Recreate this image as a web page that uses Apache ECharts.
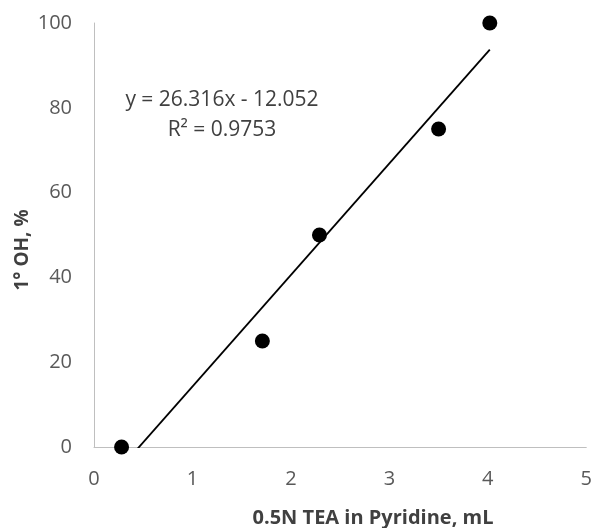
<!DOCTYPE html>
<html><head><meta charset="utf-8">
<script src="https://cdn.jsdelivr.net/npm/echarts@6/dist/echarts.min.js"></script>
<style>html,body{margin:0;padding:0;background:#fff}#c{width:595px;height:528px}</style>
</head><body><div id="c"></div>
<script>
var xValues = [0.28, 1.71, 2.29, 3.5, 4.02];
var yValues = [0, 25, 50, 75, 100];
var slope = 26.316, intercept = -12.052;
var eqText = "y = 26.316x - 12.052";
var r2Text = "R² = 0.9753";
var xTitle = "0.5N TEA in Pyridine, mL";
var yTitle = "1° OH, %";

var pts = xValues.map(function(x, i){ return [x, yValues[i]]; });
var xmin = Math.min.apply(null, xValues), xmax = Math.max.apply(null, xValues);
var trend = [[xmin, slope*xmin+intercept], [xmax, slope*xmax+intercept]];
var FONT = "Open Sans";
var chart = echarts.init(document.getElementById('c'));
chart.setOption({
  animation: false,
  grid: {left: 94, right: 6, top: 23, bottom: 81},
  xAxis: {type: 'value', min: 0, max: 5, interval: 1,
    axisLine: {show: true, onZero: false, lineStyle: {color: '#bfbfbf', width: 1}},
    axisTick: {show: false}, splitLine: {show: false},
    axisLabel: {color: '#595959', fontSize: 20, fontFamily: FONT, margin: 22}},
  yAxis: {type: 'value', min: 0, max: 100, interval: 20,
    axisLine: {show: true, lineStyle: {color: '#bfbfbf', width: 1}},
    axisTick: {show: false}, splitLine: {show: false},
    axisLabel: {color: '#595959', fontSize: 20, fontFamily: FONT, margin: 22}},
  series: [
    {type: 'line', data: trend, clip: true, symbol: 'none', silent: true,
     lineStyle: {color: '#000', width: 1.8}, z: 2},
    {type: 'scatter', data: pts, symbolSize: 15, itemStyle: {color: '#000', opacity: 1}, z: 3}
  ],
  graphic: [
    {type: 'text', style: {text: eqText + '\n' + r2Text, fill: '#404040', font: '21px "Open Sans"', align: 'center', verticalAlign: 'middle', lineHeight: 30}, x: 222, y: 115},
    {type: 'text', style: {text: xTitle, fill: '#404040', font: 'bold 20px "Open Sans"', align: 'center', verticalAlign: 'middle'}, x: 373, y: 518},
    {type: 'text', rotation: Math.PI/2, style: {text: yTitle, fill: '#404040', font: 'bold 19px "Open Sans"', align: 'center', verticalAlign: 'middle'}, x: 23, y: 250}
  ]
});
</script></body></html>
